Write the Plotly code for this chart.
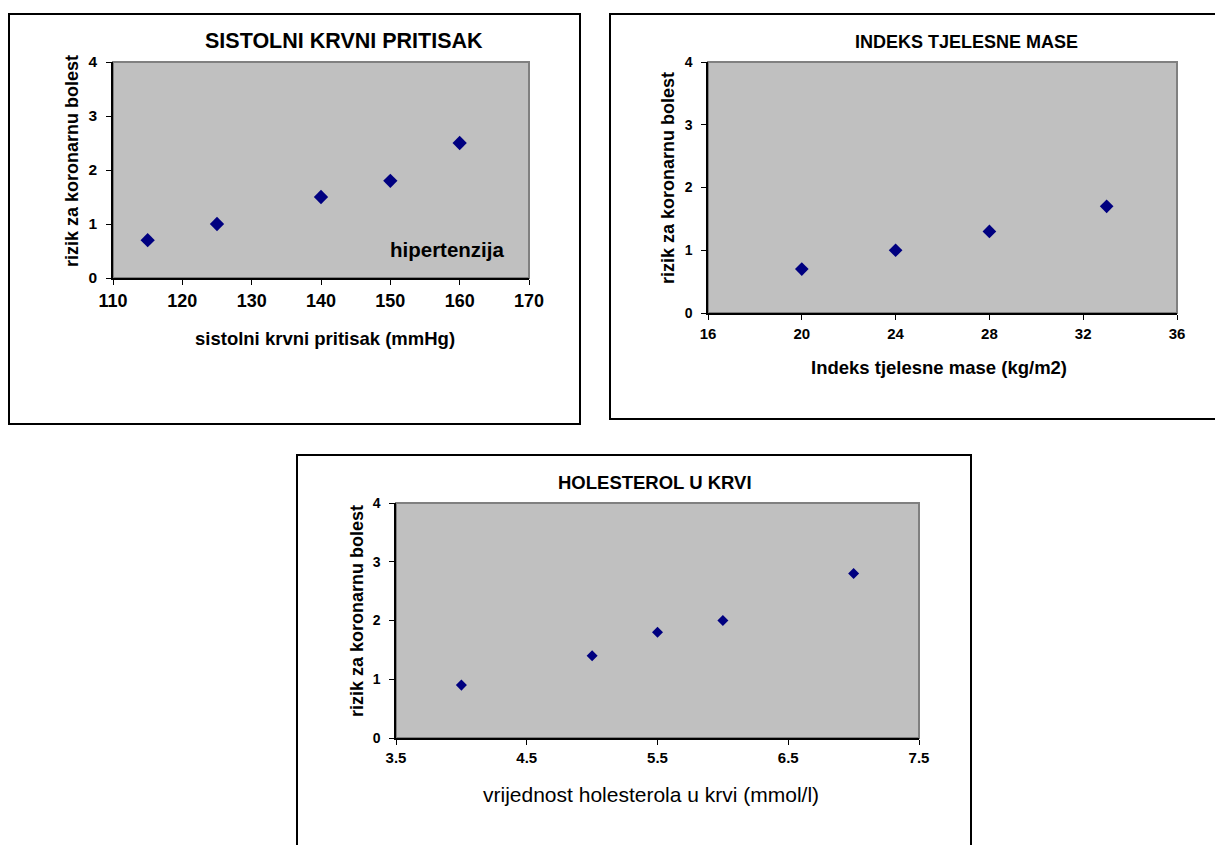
import plotly.graph_objects as go

W, H = 1215, 845

# ---------------- data ----------------
sbp_x = [115, 125, 140, 150, 160]
sbp_y = [0.7, 1.0, 1.5, 1.8, 2.5]

bmi_x = [20, 24, 28, 33]
bmi_y = [0.7, 1.0, 1.3, 1.7]

chol_x = [4.0, 5.0, 5.5, 6.0, 7.0]
chol_y = [0.9, 1.4, 1.8, 2.0, 2.8]

titles = ["SISTOLNI KRVNI PRITISAK", "INDEKS TJELESNE MASE", "HOLESTEROL U KRVI"]
x_titles = ["sistolni krvni pritisak (mmHg)", "Indeks tjelesne mase (kg/m2)",
            "vrijednost holesterola u krvi (mmol/l)"]
y_title = "rizik za koronarnu bolest"
note_text = "hipertenzija"

x1_ticks = [110, 120, 130, 140, 150, 160, 170]
x2_ticks = [16, 20, 24, 28, 32, 36]
x3_ticks = [3.5, 4.5, 5.5, 6.5, 7.5]
x3_labels = ["3.5", "4.5", "5.5", "6.5", "7.5"]
y_ticks = [0, 1, 2, 3, 4]

FONT = "Liberation Sans, Arial, sans-serif"
NAVY = "#000080"


def px(x):
    return x / W


def py(y):
    return 1 - y / H


fig = go.Figure()

panels = [
    dict(xs=sbp_x, ys=sbp_y, box=(113, 529, 62, 278), xr=[110, 170], xt=x1_ticks, xl=[str(v) for v in x1_ticks],
         msize=11, xtf=18, ytf=15.5, xstand=1, ystand=6,
         title=(titles[0], 344, 41, 21.5), xtitle=(x_titles[0], 325, 338, 18.5, True),
         ytitle=(72, 161, 18), frame=(9, 580, 14, 424)),
    dict(xs=bmi_x, ys=bmi_y, box=(708, 1177, 62, 313), xr=[16, 36], xt=x2_ticks, xl=[str(v) for v in x2_ticks],
         msize=10.5, xtf=15, ytf=14, xstand=1, ystand=6,
         title=(titles[1], 967, 42, 18), xtitle=(x_titles[1], 939, 367, 18.5, True),
         ytitle=(668, 178, 18), frame=(610, 1222, 14, 419)),
    dict(xs=chol_x, ys=chol_y, box=(396, 919, 503, 738), xr=[3.5, 7.5], xt=x3_ticks, xl=x3_labels,
         msize=8.5, xtf=15, ytf=14, xstand=0, ystand=6,
         title=(titles[2], 655, 482, 18.5), xtitle=(x_titles[2], 651, 794, 21, False),
         ytitle=(357, 611, 18), frame=(297, 971, 455, 852)),
]

shapes = []
annotations = []

for i, p in enumerate(panels, start=1):
    xa = "x" if i == 1 else f"x{i}"
    ya = "y" if i == 1 else f"y{i}"
    x0, x1, y0, y1 = p["box"]
    fig.add_trace(go.Scatter(
        x=p["xs"], y=p["ys"], mode="markers", xaxis=xa, yaxis=ya,
        marker=dict(symbol="diamond", size=p["msize"], color=NAVY, line=dict(width=0)),
        showlegend=False, hoverinfo="x+y"))

    xkey = "xaxis" if i == 1 else f"xaxis{i}"
    ykey = "yaxis" if i == 1 else f"yaxis{i}"
    fig.update_layout(**{
        xkey: dict(domain=[px(x0), px(x1)], range=p["xr"], anchor=ya, automargin=False,
                   tickmode="array", tickvals=p["xt"], ticktext=p["xl"],
                   showgrid=False, zeroline=False, showline=True, linecolor="black", linewidth=1.5,
                   ticks="outside", ticklen=5, tickcolor="black", tickwidth=1,
                   ticklabelstandoff=p["xstand"],
                   tickfont=dict(family=FONT, size=p["xtf"], color="black", weight="bold"),
                   fixedrange=True),
        ykey: dict(domain=[py(y1), py(y0)], range=[0, 4], anchor=xa, automargin=False,
                   tickmode="array", tickvals=y_ticks,
                   showgrid=False, zeroline=False, showline=True, linecolor="black", linewidth=1.5,
                   ticks="outside", ticklen=5, tickcolor="black", tickwidth=1,
                   ticklabelstandoff=p["ystand"],
                   tickfont=dict(family=FONT, size=p["ytf"], color="black", weight="bold"),
                   fixedrange=True),
    })

    # plot-area border (grey)
    shapes.append(dict(type="rect", xref=f"{xa} domain", yref=f"{ya} domain", x0=0, x1=1, y0=0, y1=1,
                       line=dict(color="#808080", width=2), fillcolor="rgba(0,0,0,0)", layer="below"))
    # chart frame (black)
    fx0, fx1, fy0, fy1 = p["frame"]
    shapes.append(dict(type="rect", xref="paper", yref="paper", x0=px(fx0), x1=px(fx1), y0=py(fy1), y1=py(fy0),
                       line=dict(color="black", width=2), fillcolor="rgba(0,0,0,0)", layer="below"))

    t, tx, ty, ts = p["title"]
    annotations.append(dict(text=t, x=px(tx), y=py(ty), xref="paper", yref="paper", showarrow=False,
                            xanchor="center", yanchor="middle",
                            font=dict(family=FONT, size=ts, color="black", weight="bold")))
    t, tx, ty, ts, bold = p["xtitle"]
    annotations.append(dict(text=t, x=px(tx), y=py(ty), xref="paper", yref="paper", showarrow=False,
                            xanchor="center", yanchor="middle",
                            font=dict(family=FONT, size=ts, color="black", weight="bold" if bold else "normal")))
    tx, ty, ts = p["ytitle"]
    annotations.append(dict(text=y_title, x=px(tx), y=py(ty), xref="paper", yref="paper", showarrow=False,
                            xanchor="center", yanchor="middle", textangle=-90,
                            font=dict(family=FONT, size=ts, color="black", weight="bold")))

annotations.append(dict(text=note_text, x=px(447), y=py(250), xref="paper", yref="paper", showarrow=False,
                        xanchor="center", yanchor="middle",
                        font=dict(family=FONT, size=20.5, color="black", weight="bold")))

fig.update_layout(
    template="none",
    width=W, height=H, margin=dict(l=0, r=0, t=0, b=0, autoexpand=False),
    paper_bgcolor="white", plot_bgcolor="#C0C0C0",
    shapes=shapes, annotations=annotations, showlegend=False,
)

fig.write_html("out.html", config={"displayModeBar": False})
